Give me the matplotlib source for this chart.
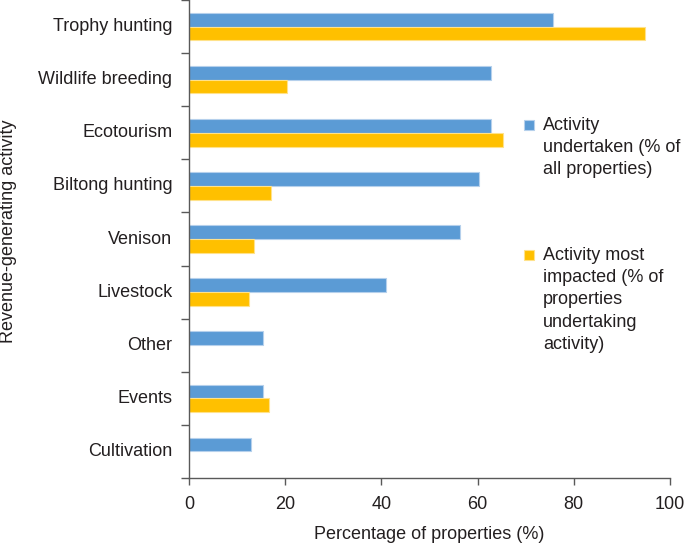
import matplotlib.pyplot as plt
import matplotlib.patches as mpatches
import numpy as np

plt.rcParams['font.family'] = ['Liberation Sans', 'DejaVu Sans']

categories = ['Trophy hunting', 'Wildlife breeding', 'Ecotourism', 'Biltong hunting',
              'Venison', 'Livestock', 'Other', 'Events', 'Cultivation']
undertaken = [75.7, 62.8, 62.8, 60.2, 56.4, 41.0, 15.4, 15.4, 12.8]
impacted = [94.9, 20.3, 65.3, 17.0, 13.6, 12.5, np.nan, 16.6, np.nan]
labels = ['Activity\nundertaken (% of\nall properties)',
          'Activity most\nimpacted (% of\nproperties\nundertaking\nactivity)']
colors = ['#5b9bd5', '#ffc000']
edges = ['#b5d0ec', '#ffe28a']
xticks = [0, 20, 40, 60, 80, 100]

text_col = '#231f20'
axis_col = '#595959'
fs = 13

fig = plt.figure(figsize=(6.85, 5.44), dpi=100)
ax = fig.add_axes([189 / 685, 1 - 478 / 544, (670 - 189) / 685, 478 / 544])

y = np.arange(len(categories))
h = 0.26
ax.barh(y - h / 2, undertaken, height=h, color=colors[0], edgecolor=edges[0], linewidth=0.8)
ax.barh(y + h / 2, impacted, height=h, color=colors[1], edgecolor=edges[1], linewidth=0.8)

ax.set_ylim(len(categories) - 0.5, -0.5)
ax.set_xlim(0, 100)

# category labels at centres, tick marks at the boundaries
ax.set_yticks(y)
ax.set_yticklabels(categories, va='center')
ax.set_yticks(np.arange(len(categories) + 1) - 0.5, minor=True)
ax.tick_params(axis='y', which='major', length=0, pad=12, labelsize=fs, labelcolor=text_col)
ax.tick_params(axis='y', which='minor', length=6, width=1, color=axis_col)

ax.set_xticks(xticks)
ax.tick_params(axis='x', length=5, width=1, color=axis_col, pad=8, labelsize=fs, labelcolor=text_col)

for s in ['top', 'right']:
    ax.spines[s].set_visible(False)
for s in ['left', 'bottom']:
    ax.spines[s].set_color(axis_col)
    ax.spines[s].set_linewidth(1)

ax.set_xlabel('Percentage of properties (%)', fontsize=fs, color=text_col, labelpad=9)
fig.text(9 / 685, 1 - 231 / 544, 'Revenue-generating activity', rotation=90,
         ha='center', va='center', fontsize=fs, color=text_col)

# legend: square marker next to the first line of each label
leg_y = [117, 247]
for lab, c, ec, ty in zip(labels, colors, edges, leg_y):
    fig.patches.append(mpatches.Rectangle((524 / 685, 1 - (ty + 13) / 544), 10 / 685, 10 / 544,
                                          transform=fig.transFigure, facecolor=c,
                                          edgecolor=ec, linewidth=0.8))
    fig.text(543 / 685, 1 - ty / 544, lab, ha='left', va='top', fontsize=fs,
             color=text_col, linespacing=1.4)

fig.savefig('out.png', dpi=100)
